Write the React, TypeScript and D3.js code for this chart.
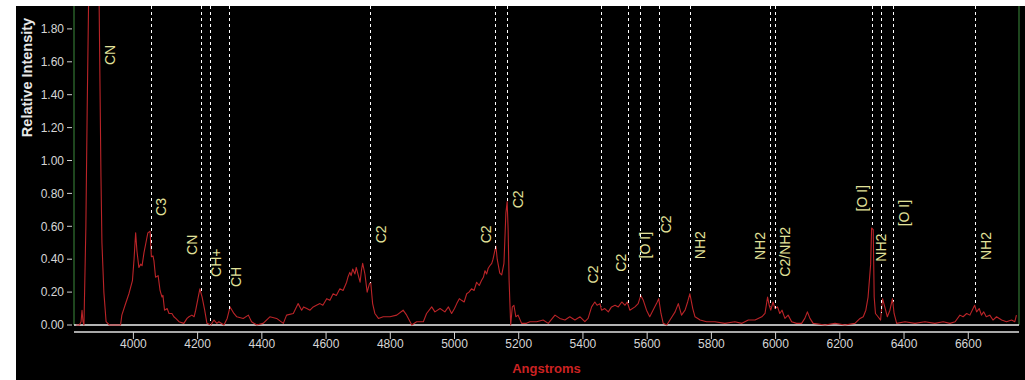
import React from "react";
import * as d3 from "d3";

// Spectrum (Angstroms, relative intensity)
const wavelengths = [
  3822, 3832, 3837, 3840, 3843, 3846, 3852, 3856, 3862, 3874, 3887, 3893, 3899, 3902, 3908, 3915, 3925, 3940, 3955, 3960,
  3964, 3974, 3986, 3997, 4002, 4007, 4011, 4017, 4023, 4027, 4033, 4039, 4045, 4052, 4056, 4061, 4064, 4069, 4077, 4083,
  4089, 4092, 4097, 4105, 4111, 4120, 4126, 4132, 4142, 4157, 4167, 4173, 4182, 4189, 4194, 4201, 4207, 4214, 4222, 4229,
  4241, 4251, 4260, 4266, 4282, 4292, 4301, 4307, 4313, 4322, 4342, 4358, 4368, 4384, 4404, 4425, 4446, 4467, 4477, 4498,
  4513, 4524, 4530, 4540, 4550, 4560, 4570, 4581, 4590, 4602, 4612, 4622, 4632, 4643, 4653, 4664, 4668, 4674, 4678, 4683,
  4690, 4694, 4698, 4702, 4706, 4710, 4714, 4721, 4728, 4735, 4739, 4745,
  4752, 4763, 4778, 4799, 4820, 4840, 4851, 4867, 4882, 4903, 4913, 4929, 4939, 4955, 4970, 4981, 4991, 5000, 5007, 5015,
  5022, 5030, 5038, 5045, 5053, 5061, 5069, 5077, 5084, 5090, 5095, 5100, 5105, 5110, 5116, 5120, 5126, 5129, 5133, 5141,
  5147, 5154, 5160, 5164, 5167, 5170, 5175, 5180, 5185, 5191,
  5198, 5209, 5224, 5235, 5256, 5276, 5292, 5313, 5328, 5344, 5359, 5375, 5391, 5406, 5416, 5427, 5437, 5444, 5453, 5458,
  5468, 5479, 5489, 5500, 5510, 5521, 5531, 5538, 5546, 5562, 5572, 5580, 5588, 5598, 5608, 5621, 5629, 5636, 5643, 5650,
  5661, 5671, 5687, 5697, 5707, 5718, 5726, 5733, 5742, 5749, 5765, 5785, 5811, 5842, 5873, 5895, 5915, 5936, 5957, 5967,
  5975, 5980, 5985, 5992, 5998, 6006, 6013, 6020, 6029, 6039, 6050, 6065, 6081, 6091, 6099, 6107, 6117, 6154, 6185, 6216,
  6247, 6263, 6273, 6281, 6288, 6296, 6299, 6304, 6307, 6311, 6319, 6327, 6333, 6340, 6348, 6356, 6364, 6369, 6377, 6403,
  6434, 6465, 6496, 6522, 6543, 6559, 6574, 6584, 6595, 6605, 6615, 6620, 6626, 6634, 6641, 6648, 6656, 6667, 6677, 6688,
  6704, 6719, 6735, 6745, 6750,
];
const intensities = [
  0.0, 0.0, 0.02, 0.09, 0.02, 0.0, 0.6, 1.3, 2.2, 3.0, 2.8, 2.0, 0.9, 0.5, 0.2, 0.02, 0.0, 0.0, 0.0, 0.0,
  0.06, 0.12, 0.19, 0.27, 0.4, 0.56, 0.45, 0.35, 0.37, 0.36, 0.44, 0.5, 0.56, 0.57, 0.415, 0.42, 0.39, 0.29, 0.3, 0.21,
  0.17, 0.18, 0.09, 0.1, 0.07, 0.07, 0.05, 0.04, 0.02, 0.01, 0.04, 0.05, 0.06, 0.05, 0.09, 0.16, 0.22, 0.17, 0.09, 0.01,
  0.0, 0.03, 0.01, 0.02, 0.0, 0.04, 0.11, 0.09, 0.07, 0.05, 0.04, 0.06, 0.02, 0.0, 0.01, 0.05, 0.04, 0.01, 0.06, 0.07,
  0.13, 0.09, 0.11, 0.1, 0.09, 0.11, 0.12, 0.13, 0.12, 0.16, 0.15, 0.19, 0.18, 0.22, 0.21, 0.26, 0.29, 0.32, 0.3, 0.34,
  0.31, 0.35, 0.32, 0.29, 0.26, 0.33, 0.375, 0.31, 0.2, 0.25, 0.26, 0.13,
  0.07, 0.04, 0.05, 0.05, 0.06, 0.09, 0.06, 0.0, 0.02, 0.02, 0.07, 0.11, 0.08, 0.1, 0.08, 0.11, 0.07, 0.1, 0.13, 0.16,
  0.15, 0.14, 0.19, 0.2, 0.22, 0.21, 0.26, 0.24, 0.27, 0.29, 0.33, 0.31, 0.345, 0.36, 0.375, 0.4, 0.455, 0.48, 0.4, 0.315,
  0.305, 0.375, 0.68, 0.75, 0.58, 0.27, 0.0, 0.11, 0.12, 0.05,
  0.06, 0.01, 0.01, 0.02, 0.02, 0.03, 0.01, 0.06, 0.04, 0.03, 0.05, 0.03, 0.05, 0.02, 0.04, 0.11, 0.14, 0.12, 0.13, 0.09,
  0.1, 0.08, 0.11, 0.12, 0.11, 0.14, 0.12, 0.14, 0.09, 0.11, 0.13, 0.18, 0.15, 0.09, 0.05, 0.1, 0.13, 0.16, 0.07, 0.01,
  0.0, 0.03, 0.08, 0.13, 0.06, 0.09, 0.14, 0.19, 0.1, 0.05, 0.03, 0.02, 0.02, 0.01, 0.02, 0.01, 0.03, 0.03, 0.05, 0.07,
  0.17, 0.12, 0.09, 0.14, 0.1, 0.11, 0.07, 0.09, 0.04, 0.06, 0.02, 0.01, 0.01, 0.04, 0.08, 0.04, 0.01, 0.0, 0.01, 0.0,
  0.01, 0.04, 0.05, 0.09, 0.17, 0.37, 0.59, 0.58, 0.17, 0.07, 0.05, 0.03, 0.16, 0.11, 0.05, 0.09, 0.16, 0.07, 0.01, 0.02,
  0.01, 0.02, 0.01, 0.02, 0.01, 0.02, 0.06, 0.05, 0.07, 0.06, 0.1, 0.12, 0.08, 0.1, 0.06, 0.08, 0.05, 0.06, 0.03, 0.05,
  0.03, 0.02, 0.03, 0.02, 0.06,
];

// Identified emission lines
const lineWavelengths = [3883, 4055, 4210, 4238, 4298, 4737, 5126, 5164, 5455, 5539, 5577, 5636, 5733, 5981, 5998, 6299, 6329, 6365, 6620];
const lineLabels = ["CN", "C3", "CN", "CH+", "CH", "C2", "C2", "C2", "C2", "C2", "[O I]", "C2", "NH2", "NH2", "C2/NH2", "[O I]", "NH2", "[O I]", "NH2"];

// Label layout: horizontal offset (px) from the line and bottom of label (in intensity units)
const labelDx = [14, 10, -9, 5.5, 7, 11, -9, 11, -8, -7, 5, 6.5, 10, -10, 10, -10, 0, 10.5, 10.5];
const labelBase = [1.58, 0.663, 0.426, 0.292, 0.231, 0.497, 0.497, 0.709, 0.253, 0.324, 0.405, 0.557, 0.4, 0.395, 0.294, 0.69, 0.385, 0.6, 0.395];

const yTicks = [0, 0.2, 0.4, 0.6, 0.8, 1.0, 1.2, 1.4, 1.6, 1.8];
const xTicks = [4000, 4200, 4400, 4600, 4800, 5000, 5200, 5400, 5600, 5800, 6000, 6200, 6400, 6600];

const W = 1025;
const H = 380;
const left = 74;
const right = 1019;
const top = 6;
const zeroY = 325;
const axisY = 332;

export default function App() {
  const x = d3.scaleLinear().domain([3815, 6758]).range([left, right]);
  const y = d3.scaleLinear().domain([0, (zeroY - top) / 164.5]).range([zeroY, top]);
  const pts = wavelengths.map((w, i) => [w, intensities[i]] as [number, number]);
  const line = d3
    .line<[number, number]>()
    .x((d) => x(d[0]))
    .y((d) => y(d[1]));
  const interp = (w: number) => {
    const i = d3.bisector((d: number) => d).left(wavelengths, w);
    if (i <= 0) return intensities[0];
    if (i >= wavelengths.length) return intensities[intensities.length - 1];
    const w0 = wavelengths[i - 1], w1 = wavelengths[i];
    const t = (w - w0) / (w1 - w0);
    return intensities[i - 1] + t * (intensities[i] - intensities[i - 1]);
  };
  const font = "'Liberation Sans', Arial, sans-serif";
  const labelSize = 14;
  return (
    <svg width={W} height={H} style={{ position: "absolute", left: 0, top: 0, display: "block" }}>
      <rect x={0} y={0} width={W} height={H} fill="#ffffff" />
      <rect x={16} y={top} width={W - 16} height={H - top} fill="#000000" />
      <defs>
        <clipPath id="plotclip">
          <rect x={left} y={top} width={right - left} height={zeroY - top + 4} />
        </clipPath>
      </defs>
      {/* frame verticals */}
      <line x1={left} x2={left} y1={top} y2={zeroY} stroke="#3c8c3c" strokeWidth={1} />
      <line x1={right} x2={right} y1={top} y2={zeroY} stroke="#3c8c3c" strokeWidth={1} />
      {/* zero line */}
      <line x1={left} x2={right} y1={zeroY} y2={zeroY} stroke="#f0f0f0" strokeWidth={1.5} />
      {/* y axis */}
      {yTicks.map((t) => (
        <g key={"y" + t}>
          <line x1={67} x2={72} y1={y(t)} y2={y(t)} stroke="#cfcfcf" strokeWidth={1} />
          <text x={64} y={y(t)} dy="0.35em" textAnchor="end" fill="#d6d6d6" fontSize={12} fontFamily={font}>
            {d3.format(".2f")(t)}
          </text>
        </g>
      ))}
      <text
        transform={`translate(31.5, 77.5) rotate(-90)`}
        textAnchor="middle"
        fill="#e8e8e8"
        fontSize={14.5}
        fontWeight="bold"
        fontFamily={font}
      >
        Relative Intensity
      </text>
      {/* x axis */}
      <line x1={left} x2={right} y1={axisY} y2={axisY} stroke="#e0e0e0" strokeWidth={1.5} />
      {xTicks.map((t) => (
        <g key={"x" + t}>
          <line x1={x(t)} x2={x(t)} y1={axisY} y2={axisY + 7} stroke="#d0d0d0" strokeWidth={1} />
          <text x={x(t)} y={348} textAnchor="middle" fill="#d6d6d6" fontSize={12} fontFamily={font}>
            {t}
          </text>
        </g>
      ))}
      <text x={(left + right) / 2} y={373} textAnchor="middle" fill="#cc2222" fontSize={13} fontWeight="bold" fontFamily={font}>
        Angstroms
      </text>
      {/* spectrum */}
      <g clipPath="url(#plotclip)">
        <path d={line(pts) || ""} fill="none" stroke="#bb2428" strokeWidth={1.1} strokeLinejoin="round" />
      </g>
      {/* identification lines */}
      {lineWavelengths.map((w, i) => {
        const lx = Math.round(x(w)) + 0.5;
        const v = interp(w);
        const yEnd = Math.max(top, y(v));
        const tx = lx + labelDx[i];
        const ty = y(labelBase[i]);
        const len = lineLabels[i].length * labelSize * 0.62;
        return (
          <g key={"l" + i}>
            {yEnd > top && (
              <line x1={lx} x2={lx} y1={top} y2={yEnd} stroke="#ffffff" strokeWidth={1} strokeDasharray="3,3" />
            )}
            {labelDx[i] === 0 && (
              <rect x={tx - 5.5} y={ty - len} width={11} height={len} fill="#000000" />
            )}
            <text
              transform={`translate(${tx}, ${ty}) rotate(-90)`}
              dy="0.35em"
              textAnchor="start"
              fill="#e2e29a"
              fontSize={labelSize}
              fontFamily={font}
            >
              {lineLabels[i]}
            </text>
          </g>
        );
      })}
    </svg>
  );
}
